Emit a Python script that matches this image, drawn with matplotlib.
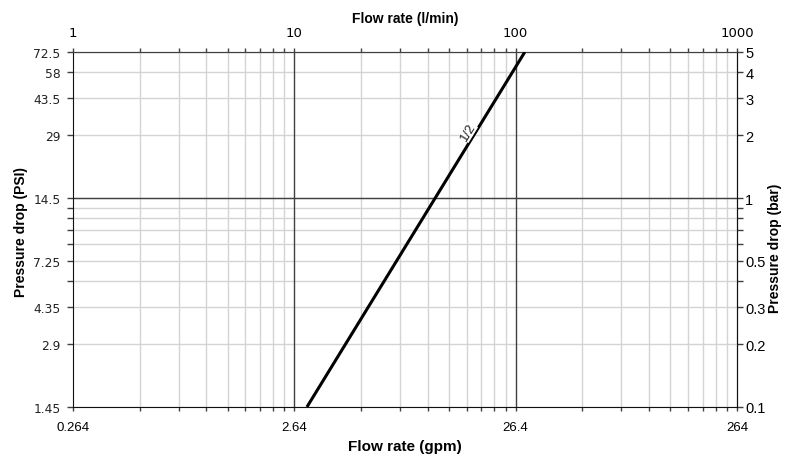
import matplotlib.pyplot as plt
import numpy as np

# flow rate ticks (l/min on top, gpm on bottom)
lpm_ticks = [1, 10, 100, 1000]
lpm_labels = ['1', '10', '100', '1000']
gpm_labels = ['0.264', '2.64', '26.4', '264']
lpm_minor = [m * d for d in [1, 10, 100] for m in range(2, 10)]

# pressure ticks (bar on right, PSI on left)
bar_ticks = [0.1, 0.2, 0.3, 0.5, 1, 2, 3, 4, 5]
bar_labels = ['0.1', '0.2', '0.3', '0.5', '1', '2', '3', '4', '5']
psi_labels = ['1.45', '2.9', '4.35', '7.25', '14.5', '29', '43.5', '58', '72.5']
bar_minor = [0.4, 0.6, 0.7, 0.8, 0.9]

# curve "1/2" (flow l/min, pressure bar)
curve_flow = [11.4, 110]
curve_bar = [0.1, 5]
curve_name = '1/2'

W, H = 790, 456
fig = plt.figure(figsize=(W / 100, H / 100), dpi=100)
ax = fig.add_axes([73 / W, 1 - 408 / H, (737 - 73) / W, (408 - 53) / H])
ax.set_xscale('log')
ax.set_yscale('log')
ax.set_xlim(1, 1000)
ax.set_ylim(0.1, 5)

light = '#d4d4d4'
dark = '#404040'

# light grid
for x in lpm_minor:
    ax.axvline(x, color=light, lw=1, zorder=1)
for y in bar_ticks + bar_minor:
    ax.axhline(y, color=light, lw=1, zorder=1)
# dark major lines
for x in [10, 100]:
    ax.axvline(x, color=dark, lw=1, zorder=2)
ax.axhline(1, color=dark, lw=1, zorder=2)

ax.plot(curve_flow, curve_bar, color='black', lw=2.2, solid_capstyle='butt', zorder=3)
ax.text(61, 2.07, curve_name, rotation=58.4, rotation_mode='anchor',
        ha='center', va='center', fontsize=9.5, color='#222222',
        family='Liberation Sans',
        bbox=dict(facecolor='white', edgecolor='none', pad=0), zorder=4)

# bottom axis: gpm
ax.set_xticks(lpm_ticks)
ax.set_xticklabels(gpm_labels, fontsize=9.5, family='Liberation Sans')
ax.set_xticks(lpm_minor, minor=True)
ax.xaxis.set_minor_formatter(plt.NullFormatter())
ax.tick_params(axis='x', which='both', length=3, width=1, color=dark, pad=7)

# left axis: PSI
ax.set_yticks(bar_ticks)
ax.set_yticklabels(psi_labels, fontsize=8.8, family='DejaVu Sans', color='#222222')
ax.set_yticks(bar_minor, minor=True)
ax.yaxis.set_minor_formatter(plt.NullFormatter())
ax.tick_params(axis='y', which='both', length=4, width=1, color=dark, pad=5)

# top axis: l/min
top = ax.secondary_xaxis('top')
top.set_xticks(lpm_ticks)
top.set_xticklabels(lpm_labels, fontsize=9.5, family='DejaVu Sans')
top.set_xticks(lpm_minor, minor=True)
top.xaxis.set_minor_formatter(plt.NullFormatter())
top.tick_params(which='both', length=3, width=1, color=dark, pad=6)
top.spines['top'].set_color(dark)

# right axis: bar
right = ax.secondary_yaxis('right')
right.set_yticks(bar_ticks)
right.set_yticklabels(bar_labels, fontsize=10.5, family='Liberation Sans')
right.set_yticks(bar_minor, minor=True)
right.yaxis.set_minor_formatter(plt.NullFormatter())
right.tick_params(which='both', length=4, width=1, color=dark, pad=2)

# axis titles
bold = dict(fontweight='bold', family='Liberation Sans', ha='center', va='center')
fig.text(405 / W, 1 - 19 / H, 'Flow rate (l/min)', fontsize=10, **bold)
fig.text(405 / W, 1 - 447 / H, 'Flow rate (gpm)', fontsize=11, **bold)
fig.text(21 / W, 1 - 232 / H, 'Pressure drop (PSI)', fontsize=10, rotation=90, **bold)
fig.text(775 / W, 1 - 248 / H, 'Pressure drop (bar)', fontsize=10, rotation=90, **bold)

for s in ['left', 'bottom', 'right']:
    ax.spines[s].set_color('#111111')
ax.spines['top'].set_color(dark)

fig.savefig('out.png', dpi=100)
